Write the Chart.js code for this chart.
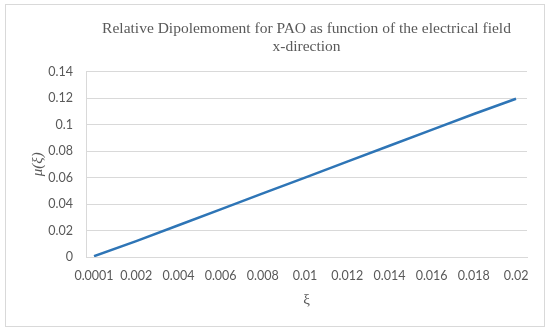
<!DOCTYPE html>
<html>
<head>
<meta charset="utf-8">
<script src="https://cdn.jsdelivr.net/npm/chart.js@4.4.1/dist/chart.umd.min.js"></script>
<style>
  html, body { margin: 0; padding: 0; background: #ffffff; }
  #frame {
    position: absolute;
    left: 5px;
    top: 4px;
    width: 538px;
    height: 321px;
    border: 1px solid #d9d9d9;
  }
  canvas { display: block; }
</style>
</head>
<body>
<div id="frame"><canvas id="chart" width="538" height="321"></canvas></div>
<script>
// field strength (x-direction) and relative dipole moment
const xiLabels = ["0.0001", "0.002", "0.004", "0.006", "0.008", "0.01",
  "0.012", "0.014", "0.016", "0.018", "0.02"];
const muValues = [0.0006, 0.012, 0.024, 0.036, 0.048, 0.06,
  0.072, 0.084, 0.096, 0.108, 0.1195];
const yTicks = [0, 0.02, 0.04, 0.06, 0.08, 0.1, 0.12, 0.14];

const titleLines = [
  "Relative Dipolemoment for PAO as function of the electrical field",
  "x-direction",
];

const gray = "#595959";
const gridColor = "#d9d9d9";
const tickFont = { family: "Lato, 'Noto Sans', sans-serif", size: 12.5 };

const canvas = document.getElementById("chart");
new Chart(canvas, {
  type: "line",
  data: {
    datasets: [
      {
        label: "mu",
        data: muValues.map((v, i) => ({ x: i, y: v })),
        borderColor: "#2E75B6",
        backgroundColor: "#2E75B6",
        borderWidth: 2.5,
        pointRadius: 0,
        tension: 0,
      },
    ],
  },
  options: {
    animation: false,
    responsive: false,
    maintainAspectRatio: false,
    layout: { padding: { left: 0, right: 17, top: 0, bottom: 0 } },
    plugins: {
      legend: { display: false },
      tooltip: { enabled: false },
      title: {
        display: true,
        fullSize: false,
        text: titleLines,
        color: gray,
        font: { family: "'Liberation Serif', 'Times New Roman', serif", size: 15.5, weight: "normal", lineHeight: 1.15 },
        padding: { top: 15, bottom: 16 },
      },
    },
    scales: {
      x: {
        type: "linear",
        min: -0.19,
        max: 10.26,
        afterFit: (scale) => { scale.height = 69; },
        afterBuildTicks: (scale) => {
          scale.ticks = xiLabels.map((_, i) => ({ value: i }));
        },
        ticks: {
          color: gray,
          font: tickFont,
          padding: 11,
          maxRotation: 0,
          autoSkip: false,
          callback: (v) => xiLabels[v],
        },
        grid: { display: false, drawTicks: false },
        border: { display: true, color: gridColor, width: 1 },
        title: {
          display: true,
          text: "ξ",
          color: gray,
          font: { family: "'Liberation Serif', serif", size: 15 },
          padding: { top: 0, bottom: 17 },
        },
      },
      y: {
        min: 0,
        max: 0.14,
        afterFit: (scale) => { scale.width = 80; },
        afterBuildTicks: (scale) => {
          scale.ticks = yTicks.map((v) => ({ value: v }));
        },
        ticks: {
          color: gray,
          font: tickFont,
          padding: 13,
          callback: (v) => String(v),
        },
        grid: { color: gridColor, lineWidth: 1, drawTicks: false },
        border: { display: true, color: gridColor, width: 1 },
        title: {
          display: true,
          text: "μ(ξ)",
          color: gray,
          font: { family: "'Liberation Serif', serif", size: 15, style: "italic" },
          padding: { top: 23, bottom: 0 },
        },
      },
    },
  },
});
</script>
</body>
</html>
